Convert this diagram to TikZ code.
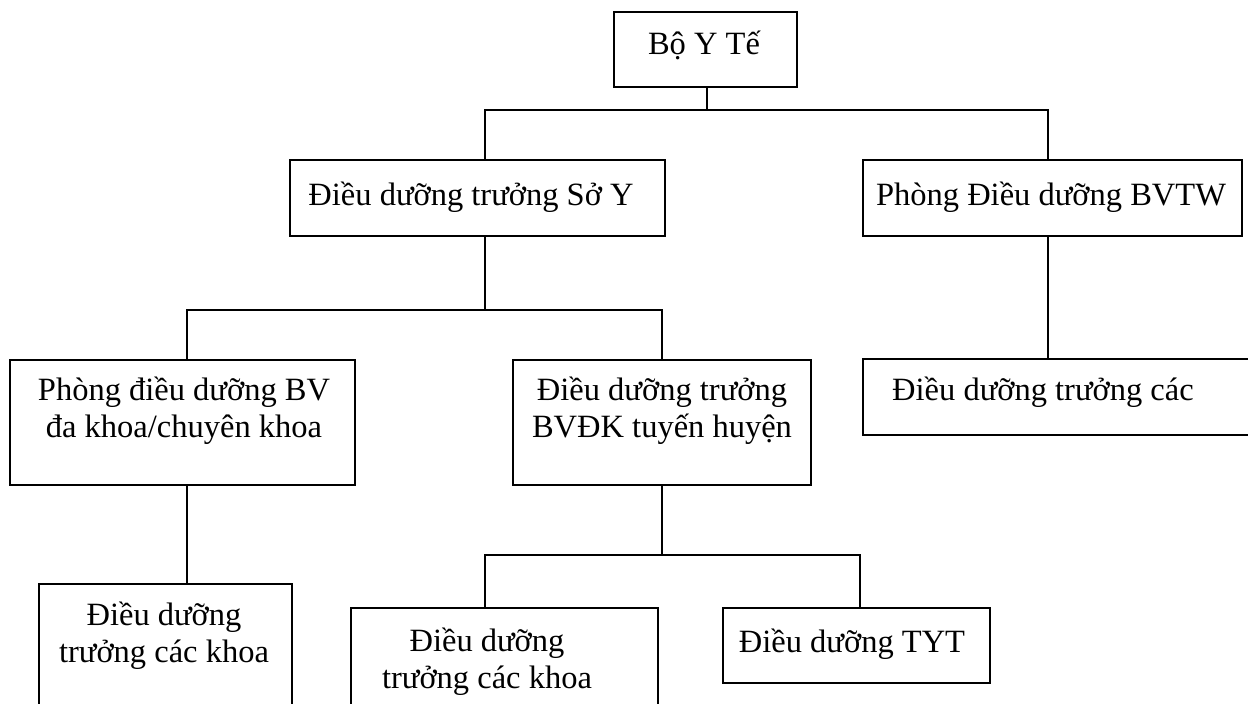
\documentclass[tikz,border=0pt]{standalone}
\usepackage{fontspec}
\setmainfont{Liberation Serif}
\newcommand{\mylines}[2]{\begin{tabular}[t]{@{}c@{}}#1\\#2\end{tabular}}
\begin{document}
\begin{tikzpicture}[x=1pt,y=-1pt,
  box/.style={draw, line width=1.8pt, inner sep=0pt, outer sep=0pt},
  lbl/.style={anchor=base, inner sep=0pt, font=\fontsize{32.5}{37.5}\selectfont},
  conn/.style={line width=1.8pt}]
\useasboundingbox (0,0) rectangle (1248,704);
\clip (0,0) rectangle (1248,704);
% boxes
\node[box, minimum width=183pt, minimum height=75pt] (A) at (705.5,49.5) {};
\node[box, minimum width=375pt, minimum height=76pt] (B) at (477.5,198) {};
\node[box, minimum width=379pt, minimum height=76pt] (C) at (1052.5,198) {};
\node[box, minimum width=345pt, minimum height=125pt] (E) at (182.5,422.5) {};
\node[box, minimum width=298pt, minimum height=125pt] (F) at (662,422.5) {};
\node[box, minimum width=407pt, minimum height=76pt] (D) at (1066.5,397) {};
\node[box, minimum width=253pt, minimum height=156pt] (G) at (165.5,662) {};
\node[box, minimum width=307pt, minimum height=132pt] (H) at (504.5,674) {};
\node[box, minimum width=267pt, minimum height=75pt] (I) at (856.5,645.5) {};
% junction coordinates
\coordinate (jA) at (707,110);
\coordinate (xB) at (485,0);
\coordinate (xC) at (1048,0);
\coordinate (jB) at (0,310);
\coordinate (xE) at (187,0);
\coordinate (xF) at (662,0);
\coordinate (jF) at (0,555);
\coordinate (xH) at (485,0);
\coordinate (xI) at (860,0);
% connectors
\draw[conn] (A.south -| jA) -- (jA);
\draw[conn] (B.north -| xB) -- (xB |- jA) -- (xC |- jA) -- (C.north -| xC);
\draw[conn] (B.south -| xB) -- (xB |- jB);
\draw[conn] (E.north -| xE) -- (xE |- jB) -- (xF |- jB) -- (F.north -| xF);
\draw[conn] (C.south -| xC) -- (D.north -| xC);
\draw[conn] (E.south -| xE) -- (G.north -| xE);
\draw[conn] (F.south -| xF) -- (xF |- jF);
\draw[conn] (H.north -| xH) -- (xH |- jF) -- (xI |- jF) -- (I.north -| xI);
% texts
\node[lbl] (tA) at (704,54) {Bộ Y Tế};
\node[lbl] (tB) at (471,205) {Điều dưỡng trưởng Sở Y};
\node[lbl] (tC) at (1051,205) {Phòng Điều dưỡng BVTW};
\node[lbl] (tE) at (184,400) {\mylines{Phòng điều dưỡng BV}{đa khoa/chuyên khoa}};
\node[lbl] (tF) at (662,400) {\mylines{Điều dưỡng trưởng}{BVĐK tuyến huyện}};
\node[lbl, anchor=base west] (tD) at (892,400) {Điều dưỡng trưởng các};
\node[lbl] (tG) at (164,625) {\mylines{Điều dưỡng}{trưởng các khoa}};
\node[lbl] (tH) at (487,651) {\mylines{Điều dưỡng}{trưởng các khoa}};
\node[lbl] (tI) at (852,652) {Điều dưỡng TYT};
\end{tikzpicture}
\end{document}
